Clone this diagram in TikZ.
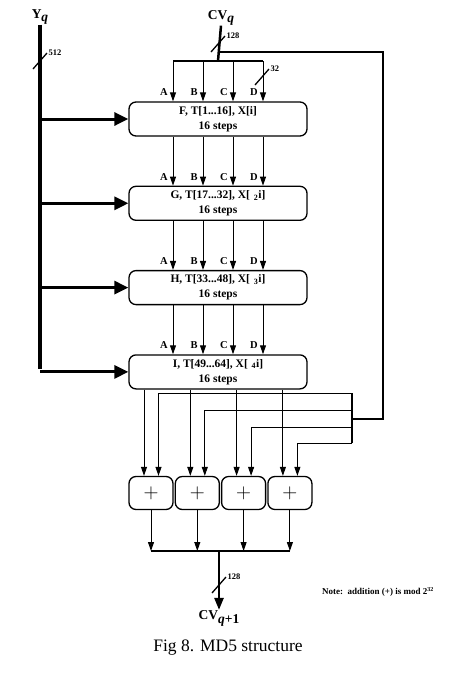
\documentclass[tikz,border=0pt]{standalone}
\usepackage{fontspec}
\setmainfont{Liberation Serif}
\usepackage{tikz}
\usetikzlibrary{arrows.meta}
\usetikzlibrary{positioning}
\tikzstyle{round} = [rectangle, rounded corners=7pt, minimum width=178pt, minimum height=34pt, align=center, line width=1.3pt, draw=black, font=\fontsize{11.5}{15}\selectfont\bfseries]
\tikzstyle{adder} = [rectangle, rounded corners=7pt, minimum width=44pt, minimum height=33pt, line width=1.3pt, draw=black, font=\fontsize{22}{22}\selectfont]
\tikzstyle{arrow} = [line width=1pt, -{Triangle[length=9pt,width=6pt]}]
\tikzstyle{fat} = [line width=3pt, -{Triangle[length=14pt,width=13pt]}]
\tikzstyle{bus} = [line width=2pt]
\tikzstyle{tag} = [inner sep=0pt, font=\fontsize{8.5}{9}\selectfont\bfseries]
\tikzstyle{letter} = [inner sep=0pt, font=\fontsize{10.5}{10}\selectfont\bfseries]
\newcommand{\widthmark}[2]{\draw[line width=1.3pt] (#1) ++(-7pt,-8pt) -- ++(14pt,16pt) node[tag, above right=-3pt and 1pt] {#2};}

\begin{document}
\begin{tikzpicture}[x=1pt, y=-1pt, node distance=49pt]
    \useasboundingbox (0,0) rectangle (454,675);
    % inputs
    \node (yq) [inner sep=0pt, font=\fontsize{13.5}{13}\selectfont\bfseries] at (40,17) {Y\raisebox{-3pt}{\textit{q}}};
    \node (cvq) [inner sep=0pt, font=\fontsize{13.5}{13}\selectfont\bfseries] at (221,18) {CV\raisebox{-3pt}{\textit{q}}};
    \coordinate (fb) at (218,52);
    \coordinate (split) at (218,61);
    \coordinate (ybot) at (40,369);
    % four rounds
    \node (bf) [round] at (218,119) {F, T[1...16], X[i]\\16 steps};
    \node (bg) [round, below = of bf] {G, T[17...32], X[\,\,\textsubscript{2}i]\\16 steps};
    \node (bh) [round, below = of bg] {H, T[33...48], X[\,\,\textsubscript{3}i]\\16 steps};
    \node (bi) [round, below = of bh] {I, T[49...64], X[\,\,\textsubscript{4}i]\\16 steps};
    % adders
    \node (a1) [adder] at (151,493) {$+$};
    \node (a2) [adder, right = 1pt of a1] {$+$};
    \node (a3) [adder, right = 1pt of a2] {$+$};
    \node (a4) [adder, right = 1pt of a3] {$+$};
    \coordinate (join) at (219,551);
    \node (cvout) [inner sep=0pt, font=\fontsize{13.5}{13}\selectfont\bfseries] at (219,618) {CV\raisebox{-4pt}{\textit{q}+1}};
    \node (note) [inner sep=0pt, font=\fontsize{9}{9}\selectfont\bfseries] at (378,592) {Note:\ \ addition (+) is mod 2\textsuperscript{32}};
    \node (cap) [inner sep=0pt, font=\fontsize{17.5}{18}\selectfont] at (228,648) {Fig 8. MD5 structure};
    % message block
    \draw [line width=4pt] (yq.south) -- (ybot);
    \foreach \b in {bf,bg,bh,bi}
        \draw [fat] (\b.west -| yq) -- (\b.west);
    \widthmark{40,61}{512}
    % chaining value
    \draw [line width=2.5pt] (cvq.south) -- (split);
    \draw [bus] ([xshift=-45pt]bf.north |- split) -- ([xshift=45pt]bf.north |- split);
    \widthmark{218,44}{128}
    \foreach \dx/\l in {-45/A,-15/B,15/C,45/D} {
        \draw [arrow] ([xshift=\dx pt]bf.north |- split) -- ([xshift=\dx pt]bf.north);
        \node [letter] at ([xshift=\dx pt-9pt, yshift=9pt]bf.north) {\l};
        \draw [arrow] ([xshift=\dx pt]bf.south) -- ([xshift=\dx pt]bg.north);
        \node [letter] at ([xshift=\dx pt-9pt, yshift=9pt]bg.north) {\l};
        \draw [arrow] ([xshift=\dx pt]bg.south) -- ([xshift=\dx pt]bh.north);
        \node [letter] at ([xshift=\dx pt-9pt, yshift=9pt]bh.north) {\l};
        \draw [arrow] ([xshift=\dx pt]bh.south) -- ([xshift=\dx pt]bi.north);
        \node [letter] at ([xshift=\dx pt-9pt, yshift=9pt]bi.north) {\l};
    }
    \widthmark{262,77}{32}
    % feedback
    \draw [bus] (fb) -| (383,419) -- (352,419);
    \draw [bus] (352,393) -- (352,443);
    \foreach \a/\y in {a1/393,a2/410,a3/427,a4/443} {
        \draw [arrow] (352,\y) -| ([xshift=7.5pt]\a.north);
        \draw [arrow] ([xshift=-7pt]\a.north |- bi.south) -- ([xshift=-7pt]\a.north);
        \draw [arrow] (\a.south) -- (\a.south |- join);
    }
    % output
    \draw [line width=1.5pt] (a1.south |- join) -- (a4.south |- join);
    \draw [line width=2.5pt, -{Triangle[length=12pt,width=9pt]}] (join) -- (cvout.north);
    \widthmark{219,585}{128}
\end{tikzpicture}
\end{document}
